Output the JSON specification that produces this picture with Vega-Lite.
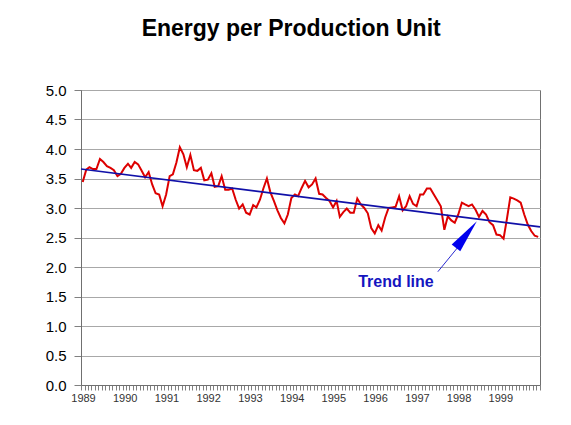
{
  "$schema": "https://vega.github.io/schema/vega-lite/v6.json",
  "width": 459,
  "height": 295,
  "autosize": "none",
  "padding": {"left": 81, "top": 90, "right": 31, "bottom": 40},
  "background": "white",
  "config": {
    "font": "Liberation Sans",
    "view": {"stroke": "#707070", "strokeWidth": 1}
  },
  "title": {
    "text": "Energy per Production Unit",
    "font": "Liberation Sans",
    "fontSize": 23,
    "fontWeight": "bold",
    "color": "black",
    "anchor": "middle",
    "frame": "bounds",
    "offset": 42,
    "dx": -3
  },
  "datasets": {
    "energy": [
      {"date": "1989-01-16", "value": 3.44}, {"date": "1989-02-16", "value": 3.65}, {"date": "1989-03-16", "value": 3.69}, {"date": "1989-04-16", "value": 3.66},
      {"date": "1989-05-16", "value": 3.66}, {"date": "1989-06-16", "value": 3.83}, {"date": "1989-07-16", "value": 3.78}, {"date": "1989-08-16", "value": 3.71},
      {"date": "1989-09-16", "value": 3.68}, {"date": "1989-10-16", "value": 3.64}, {"date": "1989-11-16", "value": 3.54}, {"date": "1989-12-16", "value": 3.58},
      {"date": "1990-01-16", "value": 3.68}, {"date": "1990-02-16", "value": 3.75}, {"date": "1990-03-16", "value": 3.68}, {"date": "1990-04-16", "value": 3.78},
      {"date": "1990-05-16", "value": 3.74}, {"date": "1990-06-16", "value": 3.63}, {"date": "1990-07-16", "value": 3.52}, {"date": "1990-08-16", "value": 3.61},
      {"date": "1990-09-16", "value": 3.40}, {"date": "1990-10-16", "value": 3.25}, {"date": "1990-11-16", "value": 3.23}, {"date": "1990-12-16", "value": 3.03},
      {"date": "1991-01-16", "value": 3.23}, {"date": "1991-02-16", "value": 3.54}, {"date": "1991-03-16", "value": 3.57}, {"date": "1991-04-16", "value": 3.77},
      {"date": "1991-05-16", "value": 4.03}, {"date": "1991-06-16", "value": 3.91}, {"date": "1991-07-16", "value": 3.69}, {"date": "1991-08-16", "value": 3.90},
      {"date": "1991-09-16", "value": 3.64}, {"date": "1991-10-16", "value": 3.63}, {"date": "1991-11-16", "value": 3.68}, {"date": "1991-12-16", "value": 3.47},
      {"date": "1992-01-16", "value": 3.48}, {"date": "1992-02-16", "value": 3.59}, {"date": "1992-03-16", "value": 3.36}, {"date": "1992-04-16", "value": 3.37},
      {"date": "1992-05-16", "value": 3.54}, {"date": "1992-06-16", "value": 3.31}, {"date": "1992-07-16", "value": 3.31}, {"date": "1992-08-16", "value": 3.33},
      {"date": "1992-09-16", "value": 3.14}, {"date": "1992-10-16", "value": 2.99}, {"date": "1992-11-16", "value": 3.06}, {"date": "1992-12-16", "value": 2.92},
      {"date": "1993-01-16", "value": 2.89}, {"date": "1993-02-16", "value": 3.05}, {"date": "1993-03-16", "value": 3.01}, {"date": "1993-04-16", "value": 3.14},
      {"date": "1993-05-16", "value": 3.33}, {"date": "1993-06-16", "value": 3.50}, {"date": "1993-07-16", "value": 3.27}, {"date": "1993-08-16", "value": 3.12},
      {"date": "1993-09-16", "value": 2.96}, {"date": "1993-10-16", "value": 2.83}, {"date": "1993-11-16", "value": 2.74}, {"date": "1993-12-16", "value": 2.89},
      {"date": "1994-01-16", "value": 3.17}, {"date": "1994-02-16", "value": 3.23}, {"date": "1994-03-16", "value": 3.20}, {"date": "1994-04-16", "value": 3.34},
      {"date": "1994-05-16", "value": 3.46}, {"date": "1994-06-16", "value": 3.35}, {"date": "1994-07-16", "value": 3.40}, {"date": "1994-08-16", "value": 3.50},
      {"date": "1994-09-16", "value": 3.24}, {"date": "1994-10-16", "value": 3.23}, {"date": "1994-11-16", "value": 3.17}, {"date": "1994-12-16", "value": 3.12},
      {"date": "1995-01-16", "value": 3.01}, {"date": "1995-02-16", "value": 3.12}, {"date": "1995-03-16", "value": 2.85}, {"date": "1995-04-16", "value": 2.93},
      {"date": "1995-05-16", "value": 2.99}, {"date": "1995-06-16", "value": 2.92}, {"date": "1995-07-16", "value": 2.92}, {"date": "1995-08-16", "value": 3.16},
      {"date": "1995-09-16", "value": 3.06}, {"date": "1995-10-16", "value": 3.00}, {"date": "1995-11-16", "value": 2.91}, {"date": "1995-12-16", "value": 2.66},
      {"date": "1996-01-16", "value": 2.57}, {"date": "1996-02-16", "value": 2.71}, {"date": "1996-03-16", "value": 2.62}, {"date": "1996-04-16", "value": 2.84},
      {"date": "1996-05-16", "value": 3.00}, {"date": "1996-06-16", "value": 3.01}, {"date": "1996-07-16", "value": 3.02}, {"date": "1996-08-16", "value": 3.20},
      {"date": "1996-09-16", "value": 2.96}, {"date": "1996-10-16", "value": 3.03}, {"date": "1996-11-16", "value": 3.20}, {"date": "1996-12-16", "value": 3.07},
      {"date": "1997-01-16", "value": 3.03}, {"date": "1997-02-16", "value": 3.23}, {"date": "1997-03-16", "value": 3.23}, {"date": "1997-04-16", "value": 3.33},
      {"date": "1997-05-16", "value": 3.33}, {"date": "1997-06-16", "value": 3.23}, {"date": "1997-07-16", "value": 3.13}, {"date": "1997-08-16", "value": 3.03},
      {"date": "1997-09-16", "value": 2.63}, {"date": "1997-10-16", "value": 2.86}, {"date": "1997-11-16", "value": 2.79}, {"date": "1997-12-16", "value": 2.75},
      {"date": "1998-01-16", "value": 2.89}, {"date": "1998-02-16", "value": 3.09}, {"date": "1998-03-16", "value": 3.06}, {"date": "1998-04-16", "value": 3.03},
      {"date": "1998-05-16", "value": 3.06}, {"date": "1998-06-16", "value": 2.97}, {"date": "1998-07-16", "value": 2.85}, {"date": "1998-08-16", "value": 2.95},
      {"date": "1998-09-16", "value": 2.89}, {"date": "1998-10-16", "value": 2.76}, {"date": "1998-11-16", "value": 2.71}, {"date": "1998-12-16", "value": 2.55},
      {"date": "1999-01-16", "value": 2.54}, {"date": "1999-02-16", "value": 2.48}, {"date": "1999-03-16", "value": 2.80}, {"date": "1999-04-16", "value": 3.18},
      {"date": "1999-05-16", "value": 3.16}, {"date": "1999-06-16", "value": 3.13}, {"date": "1999-07-16", "value": 3.09}, {"date": "1999-08-16", "value": 2.89},
      {"date": "1999-09-16", "value": 2.72}, {"date": "1999-10-16", "value": 2.61}, {"date": "1999-11-16", "value": 2.53}, {"date": "1999-12-16", "value": 2.51}
    ],
    "trend": [
      {"date": "1989-01-01", "value": 3.66},
      {"date": "2000-01-01", "value": 2.68}
    ],
    "arrow": [
      {"date": "1997-07-21", "value": 1.92, "date2": "1998-02-09", "value2": 2.40}
    ],
    "arrowhead": [
      {"date": "1998-03-28", "value": 2.55}
    ],
    "label": [
      {"date": "1996-07-19", "value": 1.75, "text": "Trend line"}
    ]
  },
  "encoding": {
    "x": {
      "field": "date", "type": "temporal",
      "scale": {"type": "utc", "domain": [{"year": 1989, "month": 1, "date": 1, "utc": true}, {"year": 2000, "month": 1, "date": 1, "utc": true}]},
      "axis": {
        "title": null,
        "grid": false,
        "tickCount": {"interval": "month", "step": 1},
        "labelExpr": "utcmonth(datum.value) == 0 && utcyear(datum.value) < 2000 ? utcFormat(datum.value, '%Y') : ''",
        "labelOverlap": false,
        "labelFlush": false,
        "labelFontSize": 11,
        "labelColor": "#333333",
        "labelOffset": 2,
        "labelPadding": 2,
        "tickSize": 5,
        "tickColor": "#808080",
        "domainColor": "#707070"
      }
    },
    "y": {
      "field": "value", "type": "quantitative",
      "scale": {"domain": [0, 5], "nice": false, "zero": true},
      "axis": {
        "title": null,
        "values": [0, 0.5, 1, 1.5, 2, 2.5, 3, 3.5, 4, 4.5, 5],
        "labelOverlap": false,
        "format": ".1f",
        "labelFontSize": 15,
        "labelColor": "#000000",
        "labelPadding": 8,
        "tickSize": 7,
        "tickColor": "#808080",
        "domainColor": "#707070",
        "gridColor": "#a8a8a8",
        "gridWidth": 1
      }
    }
  },
  "layer": [
    {
      "data": {"name": "energy"},
      "mark": {"type": "line", "color": "#dd0000", "strokeWidth": 2, "interpolate": "linear"}
    },
    {
      "data": {"name": "trend"},
      "mark": {"type": "line", "color": "#1010a8", "strokeWidth": 1.6}
    },
    {
      "data": {"name": "arrow"},
      "mark": {"type": "rule", "color": "#2a2ad0", "strokeWidth": 1},
      "encoding": {
        "x2": {"field": "date2"},
        "y2": {"field": "value2"}
      }
    },
    {
      "data": {"name": "arrowhead"},
      "mark": {"type": "point", "shape": "M0,-1L0.32,1L-0.32,1Z", "filled": true, "color": "#0000ee", "opacity": 1, "size": 1150, "angle": 38}
    },
    {
      "data": {"name": "label"},
      "mark": {"type": "text", "font": "Liberation Sans", "fontSize": 16, "fontWeight": "bold", "color": "#1515c0", "align": "center", "baseline": "middle"},
      "encoding": {
        "text": {"field": "text"}
      }
    }
  ]
}
